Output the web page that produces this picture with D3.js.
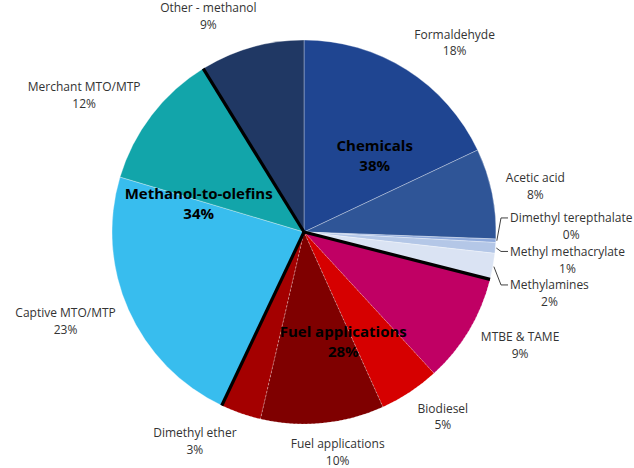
<!DOCTYPE html>
<html>
<head>
<meta charset="utf-8">
<script src="https://cdn.jsdelivr.net/npm/d3@7"></script>
<style>
  body { margin: 0; background: #fff; }
  text { font-family: "Open Sans", "Noto Sans", sans-serif; }
</style>
</head>
<body>
<svg id="drawing_region"></svg>
<script>
// slices, clockwise from 12 o'clock
const categories = ["Formaldehyde", "Acetic acid", "Dimethyl terepthalate", "Methyl methacrylate", "Methylamines",
                    "MTBE & TAME", "Biodiesel", "Fuel applications", "Dimethyl ether",
                    "Captive MTO/MTP", "Merchant MTO/MTP", "Other - methanol"];
const values = [18.0, 7.6, 0.3, 0.9, 2.2, 9.2, 5.1, 10.4, 3.4, 22.6, 11.6, 8.8];
const groups = ["Chemicals", "Chemicals", "Chemicals", "Chemicals", "Chemicals",
                "Fuel applications", "Fuel applications", "Fuel applications", "Fuel applications",
                "Methanol-to-olefins", "Methanol-to-olefins", "Chemicals"];
const colors = ["#1f4591", "#2f5597", "#8faadc", "#b4c7e7", "#dae3f3",
                "#c00064", "#d60000", "#7f0000", "#a40000",
                "#38bdee", "#12a5aa", "#203864"];

const config = {
    parent: '#drawing_region',
    width: 634,
    height: 468,
    cx: 304,
    cy: 232,
    radius: 192,
    // where the group text boxes sit, relative to the sector centroid
    groupShift: { "Chemicals": 6.5, "Fuel applications": 5.5, "Methanol-to-olefins": 18 }
};

const data = categories.map((c, i) => ({ name: c, value: values[i], group: groups[i], color: colors[i] }));
const total = d3.sum(values);
const pct = v => Math.round(v / total * 100) + "%";

const svg = d3.select(config.parent)
    .attr('width', config.width)
    .attr('height', config.height);

const chart = svg.append('g')
    .attr('transform', `translate(${config.cx}, ${config.cy})`);

const pie = d3.pie().sort(null).value(d => d.value);
const arc = d3.arc().innerRadius(0).outerRadius(config.radius);
const arcs = pie(data);
const n = arcs.length;

chart.selectAll('.slice')
    .data(arcs)
    .enter()
    .append('path')
    .attr('class', 'slice')
    .attr('d', arc)
    .attr('fill', d => d.data.color)
    .attr('stroke', '#ffffff')
    .attr('stroke-opacity', 0.45)
    .attr('stroke-width', 0.7)
    .attr('stroke-dasharray', d => d.data.group == "Fuel applications" ? '2,2' : null);

// group spans (Chemicals wraps round the top)
const i0 = arcs.findIndex((a, i) => groups[i] !== groups[(i - 1 + n) % n]);
const spans = [];
for (let k = 0; k < n; k++) {
    const i = (i0 + k) % n;
    let s = arcs[i].startAngle, e = arcs[i].endAngle;
    if (i < i0) { s += 2 * Math.PI; e += 2 * Math.PI; }
    let last = spans[spans.length - 1];
    if (!last || last.name !== groups[i]) {
        last = { name: groups[i], start: s, end: e, value: 0 };
        spans.push(last);
    }
    last.end = e;
    last.value += values[i];
}

// black separators between groups
chart.selectAll('.sep')
    .data(spans)
    .enter()
    .append('line')
    .attr('class', 'sep')
    .attr('x1', 0).attr('y1', 0)
    .attr('x2', d => config.radius * Math.sin(d.start))
    .attr('y2', d => -config.radius * Math.cos(d.start))
    .attr('stroke', '#000')
    .attr('stroke-width', 3.2)
    .attr('stroke-linecap', 'butt');

// group labels near sector area centroid
spans.forEach(s => {
    const th = s.end - s.start;
    const dist = 1.04 * 4 * config.radius * Math.sin(th / 2) / (3 * th);
    const mid = (s.start + s.end) / 2 + config.groupShift[s.name] * Math.PI / 180;
    const t = chart.append('text')
        .attr('text-anchor', 'middle')
        .attr('font-weight', 'bold')
        .attr('font-size', '15px')
        .attr('fill', '#000');
    const x = dist * Math.sin(mid), y = -dist * Math.cos(mid);
    t.append('tspan').attr('x', x).attr('y', y - 5).text(s.name);
    t.append('tspan').attr('x', x).attr('y', y + 15).text(pct(s.value));
});

// outside labels
const lineH = 16.8;
const pad = 14;
const small = arcs.filter(a => a.data.value < 3);
arcs.forEach(a => {
    const mid = (a.startAngle + a.endAngle) / 2;
    const g = chart.append('g');
    const t = g.append('text')
        .attr('text-anchor', 'middle')
        .attr('font-size', '12px')
        .attr('fill', '#333');
    const t1 = t.append('tspan').attr('x', 0).attr('y', 0).text(a.data.name);
    t.append('tspan').attr('x', 0).attr('y', lineH).text(pct(a.data.value));
    const w = t1.node().getComputedTextLength();
    const h = 2 * lineH;
    let cx, cy;
    const si = small.indexOf(a);
    if (si < 0) {
        const px = (config.radius + pad) * Math.sin(mid);
        const py = -(config.radius + pad) * Math.cos(mid);
        const sx = Math.max(-1, Math.min(1, 3 * Math.sin(mid)));
        cx = px + sx * w / 2;
        cy = py - Math.cos(mid) * h / 2;
    } else {
        // small slices: stacked column with leader lines
        const left = config.radius + 14;
        cx = left + w / 2;
        cy = 12.5 + (si - 0.5) * 33.5;
        const sx0 = (config.radius + 1) * Math.sin(mid);
        const sy0 = -(config.radius + 1) * Math.cos(mid);
        const ly = cy - h / 2 + 7;
        chart.append('polyline')
            .attr('points', [[sx0, sy0], [left - 9, ly], [left - 2, ly]].map(p => p.join(',')).join(' '))
            .attr('fill', 'none')
            .attr('stroke', '#404040')
            .attr('stroke-width', 1);
    }
    g.attr('transform', `translate(${cx}, ${cy - h / 2 + 11.5})`);
});
</script>
</body>
</html>
